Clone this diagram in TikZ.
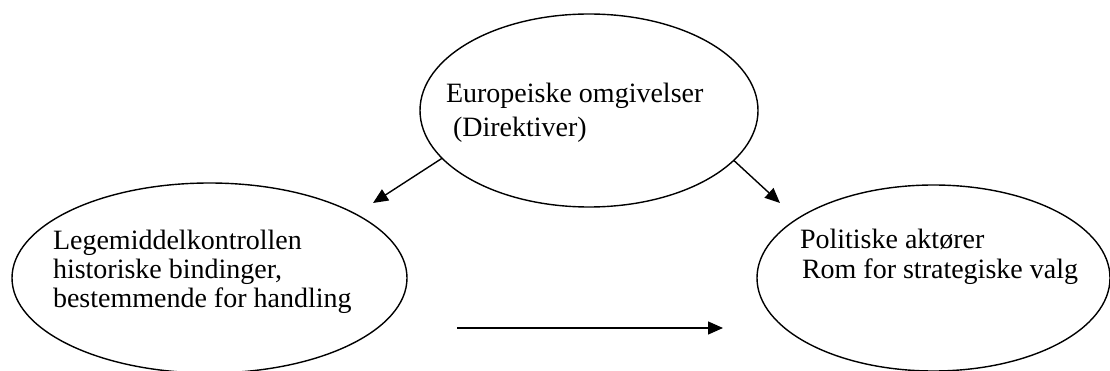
\documentclass[tikz,border=0pt]{standalone}
\usepackage{fontspec}
\setmainfont{Liberation Serif}
\usetikzlibrary{shapes.geometric,arrows.meta}
\tikzset{
  oval/.style={draw=black, line width=1.4pt, ellipse, inner sep=0pt, outer sep=0pt},
  label/.style={anchor=base west, inner sep=0pt, outer sep=0pt, align=left, font=\fontsize{28}{29}\selectfont},
  conn/.style={line width=1.4pt, -{Triangle[length=15pt,width=13pt]}}
}
\begin{document}
\begin{tikzpicture}[x=1pt,y=-1pt]
\useasboundingbox (0,0) rectangle (1110,371);
\node[oval, minimum width=338pt, minimum height=193pt] (eu) at (589,110.5) {};
\node[oval, minimum width=395pt, minimum height=190pt] (lm) at (209.5,278) {};
\node[oval, minimum width=353pt, minimum height=186pt] (pa) at (933.5,278) {};
\node[label, font=\fontsize{28}{34}\selectfont] (eutxt) at (446,137) {Europeiske omgivelser\\\hspace*{7pt}(Direktiver)};
\node[label] (lmtxt) at (53,307) {Legemiddelkontrollen\\historiske bindinger,\\bestemmende for handling};
\node[label] (patxt) at (800,278) {Politiske aktører\\\hspace*{2pt}Rom for strategiske valg};
\coordinate (tipL) at (373,203);
\coordinate (tipR) at (780,203);
\coordinate (hs) at (457,328);
\coordinate (he) at (723,328);
\draw[conn] (eu.198.2) -- (tipL);
\draw[conn] (eu.341.6) -- (tipR);
\draw[conn] (hs) -- (he);
\end{tikzpicture}
\end{document}
